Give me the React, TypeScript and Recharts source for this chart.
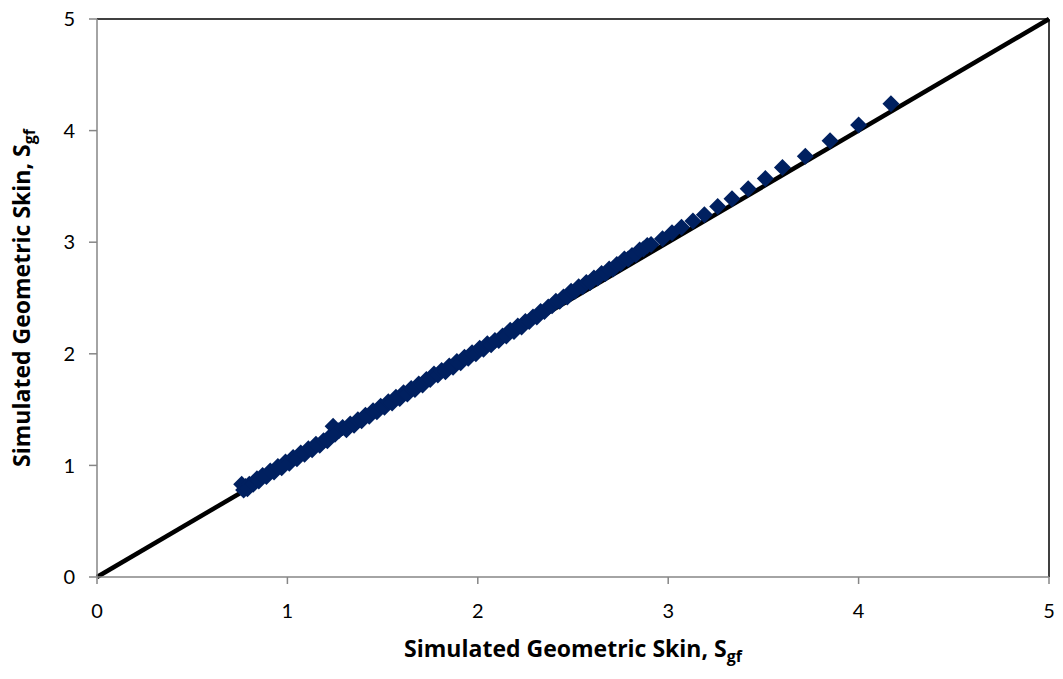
import { ScatterChart, Scatter, XAxis, YAxis, ReferenceLine, Label } from 'recharts';

// geometric skin: x = simulated S_gf, y = second estimate of S_gf
const skinX = [
  0.76, 0.77, 0.78, 0.79, 0.8, 0.82, 0.84, 0.85, 0.87, 0.89, 0.91, 0.93, 0.95, 0.97, 0.99,
  1.01, 1.03, 1.05, 1.07, 1.09, 1.11, 1.13, 1.15, 1.17, 1.19, 1.21, 1.23, 1.24, 1.25, 1.27,
  1.29, 1.31, 1.33, 1.35, 1.37, 1.39, 1.41, 1.43, 1.45, 1.47, 1.49, 1.51, 1.53, 1.55, 1.57,
  1.59, 1.61, 1.63, 1.65, 1.67, 1.69, 1.71, 1.73, 1.75, 1.77, 1.79, 1.81, 1.83, 1.85, 1.87,
  1.89, 1.91, 1.93, 1.95, 1.97, 1.99, 2.01, 2.03, 2.05, 2.07, 2.09, 2.11, 2.13, 2.15, 2.17,
  2.19, 2.21, 2.23, 2.25, 2.27, 2.29, 2.31, 2.33, 2.35, 2.37, 2.39, 2.41, 2.43, 2.45, 2.47,
  2.49, 2.51, 2.53, 2.55, 2.57, 2.59, 2.61, 2.63, 2.65, 2.67, 2.69, 2.71, 2.73, 2.75, 2.77,
  2.79, 2.81, 2.83, 2.85, 2.87, 2.89, 2.91, 2.97, 3.02, 3.07, 3.13, 3.19, 3.26, 3.335, 3.42,
  3.51, 3.6, 3.72, 3.85, 4.0, 4.17,
];
const skinY = [
  0.83, 0.78, 0.81, 0.79, 0.83, 0.83, 0.88, 0.86, 0.91, 0.9, 0.95, 0.94, 0.99, 0.98, 1.03,
  1.02, 1.07, 1.06, 1.11, 1.1, 1.15, 1.14, 1.19, 1.18, 1.22, 1.22, 1.27, 1.35, 1.28, 1.31,
  1.34, 1.32, 1.37, 1.36, 1.41, 1.4, 1.45, 1.44, 1.49, 1.48, 1.53, 1.52, 1.57, 1.56, 1.61,
  1.6, 1.65, 1.64, 1.69, 1.68, 1.73, 1.72, 1.77, 1.77, 1.82, 1.81, 1.85, 1.84, 1.89, 1.88,
  1.93, 1.92, 1.97, 1.96, 2.01, 2.0, 2.05, 2.04, 2.09, 2.08, 2.12, 2.12, 2.16, 2.16, 2.21,
  2.2, 2.25, 2.24, 2.29, 2.29, 2.33, 2.33, 2.38, 2.38, 2.42, 2.43, 2.47, 2.47, 2.51, 2.51,
  2.56, 2.56, 2.6, 2.6, 2.64, 2.64, 2.68, 2.68, 2.72, 2.72, 2.76, 2.76, 2.8, 2.81, 2.85,
  2.85, 2.88, 2.89, 2.93, 2.94, 2.97, 2.98, 3.03, 3.085, 3.135, 3.19, 3.245, 3.32, 3.39, 3.48,
  3.57, 3.67, 3.77, 3.91, 4.05, 4.24,
];
const axisTicks = [0, 1, 2, 3, 4, 5];

const points = skinX.map((x, i) => ({ x, y: skinY[i] }));

const TICK_FONT = 'Lato, "Open Sans", sans-serif';
const TITLE_FONT = '"Open Sans", Lato, sans-serif';
const NAVY = '#002060';
const GREY = '#868686';

const Diamond = (props: any) => {
  const { cx, cy } = props;
  const r = 8.5;
  return (
    <polygon
      points={`${cx},${cy - r} ${cx + r},${cy} ${cx},${cy + r} ${cx - r},${cy}`}
      fill={NAVY}
    />
  );
};

const TitleText = ({ x, y, rotate }: { x: number; y: number; rotate?: boolean }) => (
  <text
    x={0}
    y={0}
    transform={`translate(${x}, ${y})${rotate ? ' rotate(-90)' : ''}`}
    textAnchor="middle"
    fontFamily={TITLE_FONT}
    fontWeight={700}
    fontSize={23}
    fill="#000"
  >
    Simulated Geometric Skin, S
    <tspan fontSize={16} dy={5}>gf</tspan>
  </text>
);

const XTitle = ({ viewBox }: any) => (
  <TitleText x={viewBox.x + viewBox.width / 2} y={657} />
);

const YTitle = ({ viewBox }: any) => (
  <TitleText x={30} y={viewBox.y + viewBox.height / 2} rotate />
);

export default function App() {
  const tickStyle = { fontFamily: TICK_FONT, fontSize: 20, fill: '#000' };
  return (
    <div style={{ position: 'absolute', left: 0, top: 0, background: '#fff' }}>
      <ScatterChart width={1063} height={679} margin={{ top: 19, right: 14, bottom: 0, left: 0 }}>
        <XAxis
          type="number"
          dataKey="x"
          domain={[0, 5]}
          ticks={axisTicks}
          height={102}
          axisLine={{ stroke: GREY, strokeWidth: 1.5 }}
          tickLine={{ stroke: GREY, strokeWidth: 1.5 }}
          tickSize={7}
          tickMargin={20}
          tick={tickStyle}
        >
          <Label content={<XTitle />} />
        </XAxis>
        <YAxis
          type="number"
          dataKey="y"
          domain={[0, 5]}
          ticks={axisTicks}
          width={97}
          axisLine={{ stroke: GREY, strokeWidth: 1.5 }}
          tickLine={{ stroke: GREY, strokeWidth: 1.5 }}
          tickSize={8}
          tickMargin={14}
          tick={tickStyle}
        >
          <Label content={<YTitle />} />
        </YAxis>
        <ReferenceLine y={5} stroke="#000" strokeWidth={1.5} />
        <ReferenceLine x={5} stroke="#000" strokeWidth={1.5} />
        <ReferenceLine
          segment={[{ x: 0, y: 0 }, { x: 5, y: 5 }]}
          stroke="#000"
          strokeWidth={4.5}
        />
        <Scatter data={points} shape={<Diamond />} isAnimationActive={false} />
      </ScatterChart>
    </div>
  );
}
